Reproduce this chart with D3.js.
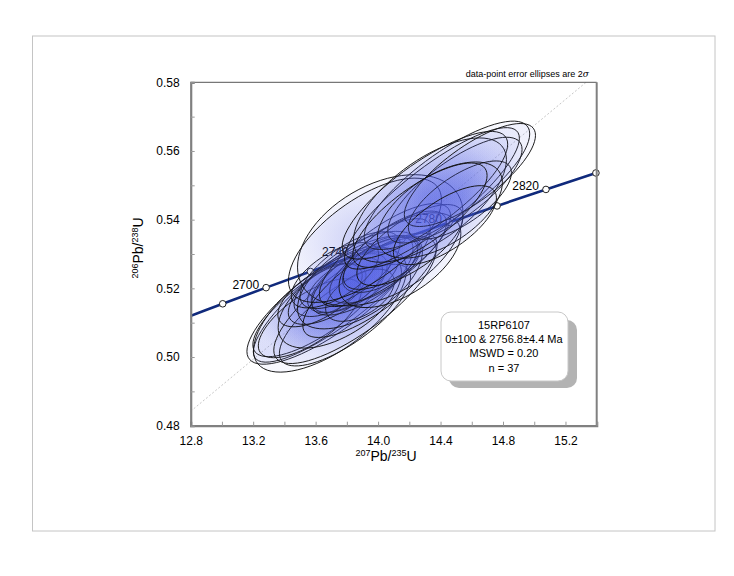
<!DOCTYPE html>
<html>
<head>
<meta charset="utf-8">
<script src="https://cdn.jsdelivr.net/npm/d3@7"></script>
<style>
  body { margin: 0; background: #fff; }
  text { font-family: "Liberation Sans", Arial, sans-serif; fill: #000; }
</style>
</head>
<body>
<div id="chart"></div>
<script>
const width = 734;
const height = 576;
const plot = {left: 190.7, right: 596.7, top: 82.3, bottom: 425.7};

// axis ticks
const xTicks = [12.8, 13.2, 13.6, 14.0, 14.4, 14.8, 15.2];
const yTicks = [0.48, 0.50, 0.52, 0.54, 0.56, 0.58];

// concordia: ages (Ma) and their ratios
const concAges = [2660, 2680, 2700, 2720, 2740, 2760, 2780, 2800, 2820, 2840, 2860];
const conc207 = [12.732, 13.005, 13.283, 13.567, 13.857, 14.153, 14.454, 14.762, 15.075, 15.395, 15.721];
const conc206 = [0.5108, 0.5155, 0.5202, 0.5249, 0.5296, 0.5344, 0.5392, 0.5440, 0.5488, 0.5536, 0.5584];
const concLabels = [2700, 2740, 2780, 2820];

// discordia through 0 and 2756.8 Ma
const disc207 = [12.8, 15.332];
const disc206 = [0.4842, 0.58];

// data-point error ellipses (2 sigma): centre, errors, error correlation
const ell207 = [13.768, 13.692, 13.628, 13.692, 13.788, 13.563, 13.852, 13.755, 13.692, 13.788,
                13.852, 13.755, 13.628, 13.916, 13.884, 13.980, 13.820, 13.884, 14.012, 13.724,
                13.948, 14.044, 14.014, 14.108, 14.140, 13.916, 14.204, 14.441, 14.345, 14.492,
                14.332, 14.300, 14.524, 14.588, 14.396, 14.268, 14.428];
const ell206 = [0.5194, 0.5166, 0.5151, 0.5137, 0.5122, 0.5113, 0.5166, 0.5166, 0.5195, 0.5209,
                0.5224, 0.5209, 0.5180, 0.5238, 0.5180, 0.5253, 0.5253, 0.5224, 0.5268, 0.5238,
                0.5209, 0.5297, 0.5340, 0.5311, 0.5282, 0.5340, 0.5326, 0.5500, 0.5462, 0.5486,
                0.5457, 0.5471, 0.5457, 0.5530, 0.5428, 0.5413, 0.5384];
const err207 = [0.567, 0.532, 0.430, 0.490, 0.420, 0.330, 0.520, 0.395, 0.230, 0.240,
                0.280, 0.330, 0.270, 0.340, 0.220, 0.290, 0.320, 0.400, 0.240, 0.280,
                0.430, 0.420, 0.530, 0.330, 0.390, 0.490, 0.340, 0.530, 0.560, 0.430,
                0.490, 0.530, 0.330, 0.420, 0.400, 0.430, 0.330];
const err206 = [0.0209, 0.0187, 0.0150, 0.0181, 0.0148, 0.0115, 0.0185, 0.0140, 0.0077, 0.0080,
                0.0094, 0.0114, 0.0092, 0.0116, 0.0076, 0.0096, 0.0112, 0.0142, 0.0080, 0.0095,
                0.0152, 0.0150, 0.0191, 0.0114, 0.0138, 0.0181, 0.0118, 0.0187, 0.0206, 0.0154,
                0.0181, 0.0186, 0.0114, 0.0150, 0.0140, 0.0152, 0.0115];
const rho = [0.856, 0.80, 0.77, 0.65, 0.75, 0.70, 0.79, 0.57, 0.54, 0.56,
             0.64, 0.70, 0.62, 0.70, 0.52, 0.64, 0.68, 0.58, 0.55, 0.63,
             0.77, 0.76, 0.41, 0.70, 0.56, 0.65, 0.70, 0.80, 0.85, 0.77,
             0.65, 0.80, 0.70, 0.77, 0.57, 0.76, 0.69];

const boxLines = ["15RP6107", "0\u00b1100 & 2756.8\u00b14.4 Ma", "MSWD = 0.20", "n = 37"];

const svg = d3.select("#chart")
    .append("svg")
    .attr("width", width)
    .attr("height", height);

const x = d3.scaleLinear().domain([12.8, 15.4]).range([plot.left, plot.right]);
const y = d3.scaleLinear().domain([0.48, 0.58]).range([plot.bottom, plot.top]);

const defs = svg.append("defs");
defs.append("clipPath").attr("id", "clip")
    .append("rect")
    .attr("x", plot.left).attr("y", plot.top)
    .attr("width", plot.right - plot.left).attr("height", plot.bottom - plot.top);
const grad = defs.append("radialGradient").attr("id", "ellFill");
grad.append("stop").attr("offset", "0%").attr("stop-color", "rgb(60,75,222)").attr("stop-opacity", 0.16);
grad.append("stop").attr("offset", "100%").attr("stop-color", "rgb(100,112,230)").attr("stop-opacity", 0.05);

// outer frame
svg.append("rect")
    .attr("x", 32.5).attr("y", 36)
    .attr("width", 682.5).attr("height", 495)
    .attr("fill", "none")
    .attr("stroke", "#c4c4c4");

// discordia (dotted)
svg.append("path")
    .attr("d", d3.line()(disc207.map((d, i) => [x(d), y(disc206[i])])))
    .attr("stroke", "#b8b8b8")
    .attr("stroke-width", 0.8)
    .attr("stroke-dasharray", "2,2")
    .attr("fill", "none");

// concordia
const concPts = concAges.map((a, i) => [x(conc207[i]), y(conc206[i])]);
svg.append("path")
    .attr("clip-path", "url(#clip)")
    .attr("d", d3.line().curve(d3.curveCatmullRom)(concPts))
    .attr("stroke", "#102a7c")
    .attr("stroke-width", 2.6)
    .attr("fill", "none");

const inside = concAges.map((a, i) => i).filter(i => conc207[i] >= 12.8 && conc207[i] <= 15.4);
svg.append("g").selectAll("circle")
    .data(inside)
    .enter()
    .append("circle")
        .attr("cx", i => x(conc207[i]))
        .attr("cy", i => y(conc206[i]))
        .attr("r", 3.3)
        .attr("fill", "#fff")
        .attr("stroke", "#222")
        .attr("stroke-width", 1);

svg.append("g").selectAll("text")
    .data(concLabels)
    .enter()
    .append("text")
        .attr("x", a => x(conc207[concAges.indexOf(a)]) - 7)
        .attr("y", a => y(conc206[concAges.indexOf(a)]) + 1)
        .attr("text-anchor", "end")
        .attr("font-size", 12)
        .text(a => a);

// error ellipses
function ellipsePath(i) {
    const pts = d3.range(0, 73).map(k => {
        const t = k / 72 * 2 * Math.PI;
        const px = ell207[i] + err207[i] * Math.cos(t);
        const py = ell206[i] + err206[i] * (rho[i] * Math.cos(t) + Math.sqrt(1 - rho[i] * rho[i]) * Math.sin(t));
        return [x(px), y(py)];
    });
    return d3.line()(pts) + "Z";
}
svg.append("g")
    .selectAll("path")
    .data(d3.range(ell207.length))
    .enter()
    .append("path")
        .attr("d", ellipsePath)
        .attr("fill", "url(#ellFill)")
        .attr("stroke", "#111")
        .attr("stroke-width", 0.95);

// axes frame
svg.append("line")
    .attr("x1", plot.left).attr("x2", plot.right)
    .attr("y1", plot.top).attr("y2", plot.top)
    .attr("stroke", "#555").attr("stroke-width", 1);
svg.append("line")
    .attr("x1", plot.right).attr("x2", plot.right)
    .attr("y1", plot.top).attr("y2", plot.bottom)
    .attr("stroke", "#808080").attr("stroke-width", 2);

const xAxis = d3.axisBottom(x)
    .tickValues(d3.range(12.8, 15.41, 0.2))
    .tickSize(-4)
    .tickFormat(d => xTicks.some(v => Math.abs(v - d) < 1e-6) ? d.toFixed(1) : "");
const gx = svg.append("g")
    .attr("transform", `translate(0,${plot.bottom})`)
    .call(xAxis);
gx.select(".domain").attr("stroke", "#808080").attr("stroke-width", 2.2);
gx.selectAll(".tick line").attr("stroke", "#9a9a9a");
gx.selectAll(".tick text")
    .attr("font-size", 12)
    .attr("font-family", "Liberation Sans, Arial, sans-serif")
    .attr("y", 11);

const yAxis = d3.axisLeft(y)
    .tickValues(d3.range(0.48, 0.5801, 0.01))
    .tickSize(-4)
    .tickFormat(d => yTicks.some(v => Math.abs(v - d) < 1e-6) ? d.toFixed(2) : "");
const gy = svg.append("g")
    .attr("transform", `translate(${plot.left},0)`)
    .call(yAxis);
gy.select(".domain").attr("stroke", "#808080").attr("stroke-width", 2.2);
gy.selectAll(".tick line").attr("stroke", "#9a9a9a");
gy.selectAll(".tick text")
    .attr("font-size", 12)
    .attr("font-family", "Liberation Sans, Arial, sans-serif")
    .attr("x", -11);

// axis titles
const xt = svg.append("text")
    .attr("x", 386).attr("y", 461)
    .attr("text-anchor", "middle")
    .attr("font-size", 14);
xt.append("tspan").attr("font-size", 9).attr("dy", -5).text("207");
xt.append("tspan").attr("dy", 5).text("Pb/");
xt.append("tspan").attr("font-size", 9).attr("dy", -5).text("235");
xt.append("tspan").attr("dy", 5).text("U");

const yt = svg.append("text")
    .attr("transform", "translate(143,248) rotate(-90)")
    .attr("text-anchor", "middle")
    .attr("font-size", 14);
yt.append("tspan").attr("font-size", 9).attr("dy", -5).text("206");
yt.append("tspan").attr("dy", 5).text("Pb/");
yt.append("tspan").attr("font-size", 9).attr("dy", -5).text("238");
yt.append("tspan").attr("dy", 5).text("U");

// note
const note = svg.append("text")
    .attr("x", 589).attr("y", 77)
    .attr("text-anchor", "end")
    .attr("font-size", 9);
note.append("tspan").text("data-point error ellipses are 2");
note.append("tspan").attr("font-family", "DejaVu Serif, serif").attr("font-style", "italic").text("\u03c3");

// result box
const box = svg.append("g");
box.append("rect")
    .attr("x", 449).attr("y", 320)
    .attr("width", 128).attr("height", 68)
    .attr("rx", 10)
    .attr("fill", "#b3b3b3");
box.append("rect")
    .attr("x", 441).attr("y", 312)
    .attr("width", 127).attr("height", 69)
    .attr("rx", 10)
    .attr("fill", "#fff")
    .attr("stroke", "#c8c8c8");
box.selectAll("text.line")
    .data(boxLines)
    .enter()
    .append("text")
        .attr("class", "line")
        .attr("x", 504)
        .attr("y", (d, i) => 329 + i * 14.2)
        .attr("text-anchor", "middle")
        .attr("font-size", 11)
        .text(d => d);
</script>
</body>
</html>
